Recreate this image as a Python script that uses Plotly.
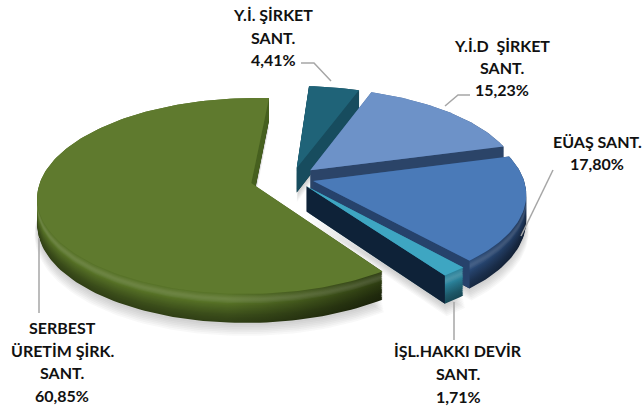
import math
import plotly.graph_objects as go

# ---- data ----
labels = ["Y.İ. ŞİRKET SANT.", "Y.İ.D ŞİRKET SANT.", "EÜAŞ SANT.", "İŞL.HAKKI DEVİR SANT.", "SERBEST ÜRETİM ŞİRK. SANT."]
values = [4.41, 15.23, 17.80, 1.71, 60.85]
value_text = ["4,41%", "15,23%", "17,80%", "1,71%", "60,85%"]

# ---- style ----
pull = [0.11, 0.12, 0.105, 0.11, 0.2]
top_colors = ["#1f6378", "#6d92c8", "#4a7ab8", "#3ea6c2", "#5f7a2e"]
wall_left = ["#1a5264", "#4a6a9c", "#2f5487", "#2f8ca8", "#567126"]
wall_right = ["#123c4b", "#2b4468", "#20385c", "#2a8098", "#2e3d12"]
cut_colors = ["#174c5e", "#2b4468", "#26426b", "#0e2238", "#46601f"]

label_lines = [
    (["Y.İ. ŞİRKET", "SANT.", "4,41%"], 273, [14, 37, 59]),
    (["Y.İ.D  ŞİRKET", "SANT.", "15,23%"], 502, [45, 67, 89]),
    (["EÜAŞ SANT.", "17,80%"], 597, [141, 163]),
    (["İŞL.HAKKI DEVİR", "SANT.", "1,71%"], 458, [350, 373, 396]),
    (["SERBEST", "ÜRETİM ŞİRK.", "SANT.", "60,85%"], 62, [327, 350, 372, 395]),
]
leaders = [
    ([301, 314, 331], [63, 63, 81]),
    ([470, 458, 445], [95, 95, 106]),
    ([553, 521], [170, 236]),
    ([454, 454], [302, 340]),
    ([39, 39], [238, 313]),
]

CX, CY, RX, RY, K, DEPTH = 292, 178, 210, 95, 0.13, 25
START = 4.0


def mix(a, b, t):
    a = [int(a[i:i + 2], 16) for i in (1, 3, 5)]
    b = [int(b[i:i + 2], 16) for i in (1, 3, 5)]
    return "#%02x%02x%02x" % tuple(round(x + (y - x) * t) for x, y in zip(a, b))


def project(u, v, z=0.0):
    s = 1 / (1 + K * v)
    return CX + RX * u * s, CY - RY * v * s + z * s


def slice_poly(a0, a1, e, z=0.0, r=1.0):
    mid = math.radians((a0 + a1) / 2)
    ou, ov = e * math.sin(mid), e * math.cos(mid)
    n = max(6, int((a1 - a0) / 1.5))
    pts = [project(ou, ov, z)]
    for i in range(n + 1):
        a = math.radians(a0 + (a1 - a0) * i / n)
        pts.append(project(ou + r * math.sin(a), ov + r * math.cos(a), z))
    pts.append(pts[0])
    return [p[0] for p in pts], [p[1] for p in pts]


def cut_quad(a, a0, a1, e):
    mid = math.radians((a0 + a1) / 2)
    ou, ov = e * math.sin(mid), e * math.cos(mid)
    ar = math.radians(a)
    pts = [project(ou, ov), project(ou + math.sin(ar), ov + math.cos(ar)),
           project(ou + math.sin(ar), ov + math.cos(ar), DEPTH), project(ou, ov, DEPTH), project(ou, ov)]
    return [p[0] for p in pts], [p[1] for p in pts]


fig = go.Figure()


def poly(x, y, color=None, grad=None):
    kw = dict(x=x, y=y, mode="lines", line=dict(width=0), fill="toself", hoverinfo="skip", showlegend=False)
    if grad:
        kw["fillgradient"] = dict(type="horizontal", colorscale=[[0, grad[0]], [0.55, grad[0]], [1, grad[1]]])
    else:
        kw["fillcolor"] = color
    fig.add_trace(go.Scatter(**kw))


total = sum(values)
angles = []
acc = START
for v in values:
    angles.append((acc, acc + v / total * 360))
    acc += v / total * 360

# soft ground shadow
for j in range(7):
    for i, (a0, a1) in enumerate(angles):
        x, y = slice_poly(a0, a1, pull[i], DEPTH + 2 + j * 1.3, 1.0 + 0.002 * j)
        poly(x, y, "rgba(60,60,60,0.035)")

# wall shade by depth: 0 is the top rim, 1 the bottom edge
profile = [1.0, 1.02, 1.05, 1.08, 1.11, 1.13, 1.12, 1.09, 1.05, 1.0, 0.96, 0.92, 0.89, 0.86, 0.83, 0.8, 0.77, 0.74, 0.71, 0.68, 0.66, 0.64, 0.62, 0.6, 0.58, 0.56]

for i in [0, 1, 2, 3, 4]:
    a0, a1 = angles[i]
    for j, f in reversed(list(enumerate(profile))):
        z = DEPTH * j / (len(profile) - 1)
        lft = mix(wall_left[i], "#ffffff" if f > 1 else "#000000", abs(f - 1))
        rgt = mix(wall_right[i], "#ffffff" if f > 1 else "#000000", abs(f - 1))
        x, y = slice_poly(a0, a1, pull[i], z)
        poly(x, y, grad=(lft, rgt))
    for a, vis in ((a0, math.sin(math.radians(a0)) < 0), (a1, math.sin(math.radians(a1)) > 0)):
        if vis:
            x, y = cut_quad(a, a0, a1, pull[i])
            poly(x, y, cut_colors[i])
    x, y = slice_poly(a0, a1, pull[i])
    poly(x, y, top_colors[i])

for lx, ly in leaders:
    fig.add_trace(go.Scatter(x=lx, y=ly, mode="lines", line=dict(color="#a6a6a6", width=1.5),
                             hoverinfo="skip", showlegend=False))

for lines, cx, ys in label_lines:
    for t, yy in zip(lines, ys):
        fig.add_annotation(x=cx, y=yy, text=t, showarrow=False, xanchor="center", yanchor="middle",
                           font=dict(family="Lato", size=16, color="#111111", weight="bold"))

fig.update_xaxes(range=[0, 644], visible=False, fixedrange=True)
fig.update_yaxes(range=[412, 0], visible=False, fixedrange=True)
fig.update_layout(width=644, height=412, margin=dict(l=0, r=0, t=0, b=0),
                  paper_bgcolor="white", plot_bgcolor="white", showlegend=False)
fig.write_html("out.html", config={"displayModeBar": False},
               post_script="document.body.style.margin='0';document.body.style.overflow='hidden';")
